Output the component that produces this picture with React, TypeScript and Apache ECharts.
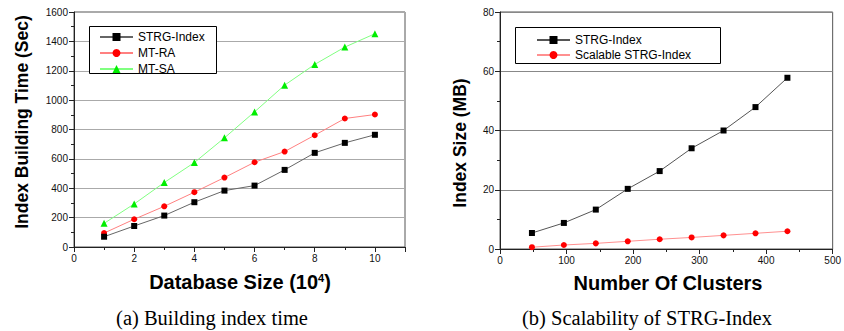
import React, { useEffect, useRef } from "react";
import * as echarts from "echarts";

// Left chart: Building index time
const dbSizes = [1, 2, 3, 4, 5, 6, 7, 8, 9, 10];
const strgTime = [70, 143, 214, 305, 384, 418, 525, 641, 709, 764];
const mtRaTime = [95, 189, 277, 373, 473, 577, 650, 761, 875, 902];
const mtSaTime = [161, 293, 439, 575, 743, 920, 1102, 1243, 1361, 1452];

// Right chart: Scalability of STRG-Index
const clusters = [48, 96, 144, 192, 240, 288, 336, 384, 432];
const strgSize = [5.4, 8.8, 13.3, 20.3, 26.3, 34.0, 40.0, 47.9, 57.8];
const scalableSize = [0.6, 1.35, 1.9, 2.6, 3.3, 3.9, 4.6, 5.3, 6.0];

const SANS = "Liberation Sans, Arial, sans-serif";
const SERIF = "Liberation Serif, Times New Roman, serif";

const pair = (xs: number[], ys: number[]) => xs.map((x, i) => [x, ys[i]]);

export default function App() {
  const ref = useRef<HTMLDivElement>(null);
  useEffect(() => {
    if (!ref.current) return;
    const chart = echarts.init(ref.current, undefined, { renderer: "svg" });
    const plain = (v: number) => String(v);
    const axisCommon = {
      axisLine: { show: true, onZero: false, lineStyle: { color: "#222", width: 1 } },
      axisTick: { show: true, length: 5, lineStyle: { color: "#222" } },
      minorTick: { show: true, splitNumber: 2, length: 3, lineStyle: { color: "#222" } },
      axisLabel: { fontFamily: SANS, fontSize: 10, color: "#111", margin: 6, formatter: plain },
    };
    const titleStyle = { fontFamily: SANS, fontWeight: "bold" as const, fill: "#000" };
    const legendCommon = {
      orient: "vertical",
      itemWidth: 33,
      itemHeight: 10,
      borderWidth: 0,
      z: 10,
      textStyle: { fontFamily: SANS, fontSize: 12, color: "#000" },
    };
    chart.setOption({
      animation: false,
      backgroundColor: "#fff",
      grid: [
        { left: 74, top: 12, width: 331, height: 235, show: true, borderColor: "#555", borderWidth: 1 },
        { left: 500, top: 12, width: 336, height: 237, show: true, borderColor: "#555", borderWidth: 1 },
      ],
      xAxis: [
        {
          ...axisCommon,
          type: "value",
          gridIndex: 0,
          min: 0,
          max: 11,
          interval: 2,
          splitLine: { show: false },
          axisLabel: {
            ...axisCommon.axisLabel,
            formatter: (v: number) => (v % 2 === 0 ? String(v) : ""),
          },
        },
        {
          ...axisCommon,
          type: "value",
          gridIndex: 1,
          min: 0,
          max: 500,
          interval: 100,
          splitLine: { show: false },
        },
      ],
      yAxis: [
        {
          ...axisCommon,
          type: "value",
          gridIndex: 0,
          min: 0,
          max: 1600,
          interval: 200,
          splitLine: { show: true, lineStyle: { color: "#aaa", width: 1 } },
        },
        {
          ...axisCommon,
          type: "value",
          gridIndex: 1,
          min: 0,
          max: 80,
          interval: 20,
          splitLine: { show: true, lineStyle: { color: "#888", width: 1 } },
        },
      ],
      legend: [
        {
          ...legendCommon,
          data: ["STRG-Index", "MT-RA", "MT-SA"],
          left: 89,
          top: 26,
          itemGap: 4,
          padding: [5, 10, 4, 10],
        },
        {
          ...legendCommon,
          data: ["STRG-Index ", "Scalable STRG-Index"],
          left: 515,
          top: 27,
          itemGap: 3,
          padding: [7, 10, 6, 21],
        },
      ],
      series: [
        {
          name: "STRG-Index",
          type: "line",
          xAxisIndex: 0,
          yAxisIndex: 0,
          data: pair(dbSizes, strgTime),
          symbol: "rect",
          symbolSize: 6,
          itemStyle: { color: "#000" },
          lineStyle: { color: "#666", width: 1 },
          z: 4,
        },
        {
          name: "MT-RA",
          type: "line",
          xAxisIndex: 0,
          yAxisIndex: 0,
          data: pair(dbSizes, mtRaTime),
          symbol: "circle",
          symbolSize: 6,
          itemStyle: { color: "#ff0000" },
          lineStyle: { color: "#ff8080", width: 1 },
          z: 3,
        },
        {
          name: "MT-SA",
          type: "line",
          xAxisIndex: 0,
          yAxisIndex: 0,
          data: pair(dbSizes, mtSaTime),
          symbol: "triangle",
          symbolSize: 7,
          itemStyle: { color: "#00ee00" },
          lineStyle: { color: "#80ff80", width: 1 },
          z: 2,
        },
        {
          name: "STRG-Index ",
          type: "line",
          xAxisIndex: 1,
          yAxisIndex: 1,
          data: pair(clusters, strgSize),
          symbol: "rect",
          symbolSize: 6,
          itemStyle: { color: "#000" },
          lineStyle: { color: "#555", width: 1 },
        },
        {
          name: "Scalable STRG-Index",
          type: "line",
          xAxisIndex: 1,
          yAxisIndex: 1,
          data: pair(clusters, scalableSize),
          symbol: "circle",
          symbolSize: 6,
          itemStyle: { color: "#ff0000" },
          lineStyle: { color: "#ff9090", width: 1 },
        },
      ],
      graphic: [
        {
          type: "rect",
          z: 5,
          shape: { x: 89.5, y: 26.5, width: 127, height: 47 },
          style: { fill: "#fff", stroke: "#000", lineWidth: 1 },
        },
        {
          type: "rect",
          z: 5,
          shape: { x: 515.5, y: 27.5, width: 205, height: 36 },
          style: { fill: "#fff", stroke: "#000", lineWidth: 1 },
        },
        {
          type: "text",
          x: 22,
          y: 122,
          rotation: Math.PI / 2,
          style: { ...titleStyle, text: "Index Building Time (Sec)", fontSize: 17.5, align: "center", verticalAlign: "middle" },
        },
        {
          type: "text",
          x: 460,
          y: 143,
          rotation: Math.PI / 2,
          style: { ...titleStyle, text: "Index Size (MB)", fontSize: 17.5, align: "center", verticalAlign: "middle" },
        },
        {
          type: "text",
          x: 240,
          y: 282,
          style: {
            text: "{a|Database Size (10}{s|4}{a|)}",
            align: "center",
            verticalAlign: "middle",
            rich: {
              a: { fontFamily: SANS, fontWeight: "bold", fontSize: 20, color: "#000" },
              s: { fontFamily: SANS, fontWeight: "bold", fontSize: 11, color: "#000", verticalAlign: "top" },
            },
          },
        },
        {
          type: "text",
          x: 668,
          y: 283,
          style: { ...titleStyle, text: "Number Of Clusters", fontSize: 20, align: "center", verticalAlign: "middle" },
        },
        {
          type: "text",
          x: 212,
          y: 318,
          style: { fontFamily: SERIF, fontSize: 20.5, fill: "#000", text: "(a) Building index time", align: "center", verticalAlign: "middle" },
        },
        {
          type: "text",
          x: 647,
          y: 318,
          style: { fontFamily: SERIF, fontSize: 20.5, fill: "#000", text: "(b) Scalability of STRG-Index", align: "center", verticalAlign: "middle" },
        },
      ],
    });
    return () => chart.dispose();
  }, []);
  return (
    <div
      ref={ref}
      style={{ position: "absolute", left: 0, top: 0, width: 844, height: 331, background: "#fff" }}
    />
  );
}
